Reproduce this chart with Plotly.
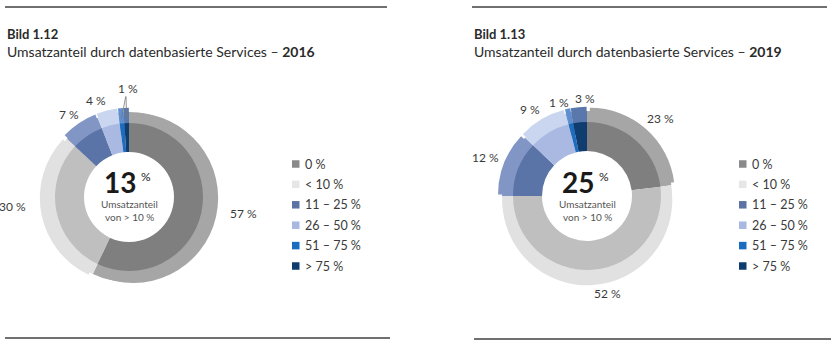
import math
import plotly.graph_objects as go

W, H = 839, 355

# ---------------- data ----------------
CATEGORIES = ["0 %", "< 10 %", "11 – 25 %", "26 – 50 %", "51 – 75 %", "> 75 %"]
VALUES_2016 = [57, 30, 7, 4, 1, 1]
VALUES_2019 = [23, 52, 12, 9, 1, 3]
YEARS = ["2016", "2019"]
FIGURE_NUMBERS = ["Bild 1.12", "Bild 1.13"]
SUBTITLE = "Umsatzanteil durch datenbasierte Services – "
CENTER_CAPTION = ["Umsatzanteil", "von > 10 %"]
SHARE_CATEGORIES = [2, 3, 4, 5]  # categories counted as "> 10 %"

# ---------------- styles ----------------
INNER_COLORS = ["#7f7f7f", "#bfbfbf", "#5b74a8", "#a9b9e1", "#1d6dbf", "#0f3d70"]
OUTER_COLORS = ["#a6a6a6", "#e1e1e1", "#8196c5", "#cad6ef", "#5f8fcf", "#5a78ab"]
LEGEND_COLORS = ["#8a8a8a", "#e6e6e6", "#5b72a5", "#a8b8e0", "#1a6cc0", "#0e3c6e"]
FONT = "Lato"
TEXT_COLOR = "#3a3a3a"

R_IN, HOLE_IN = 74, 45
R_OUT, HOLE_OUT = 85, 62
PULL = 0.05

PANELS = [
    dict(values=VALUES_2016, cx=129, cy=197, tx=5, leg_x=292,
         top=(5, 387, 7), bottom=(5, 390, 338),
         labels=[([0], 243, 213), ([1], 12, 206), ([2], 69, 114),
                 ([3], 96, 100), ([4, 5], 128, 88)]),
    dict(values=VALUES_2019, cx=587, cy=196, tx=472, leg_x=739,
         top=(472, 827, 7), bottom=(474, 831, 339),
         labels=[([0], 660, 118), ([1], 607, 293), ([2], 485, 157),
                 ([3], 530, 109), ([4], 559, 102), ([5], 585, 98)]),
]


def px(x):
    return x / W


def py(y):
    return 1 - y / H


def domain(cx, cy, half):
    return dict(x=[px(cx - half), px(cx + half)], y=[py(cy + half), py(cy - half)])


def text_ann(x, y, text, size, color=TEXT_COLOR, xanchor="center"):
    return dict(x=px(x), y=py(y), xref="paper", yref="paper", showarrow=False,
                xanchor=xanchor, yanchor="middle", text=text,
                font=dict(family=FONT, size=size, color=color))


fig = go.Figure()
annotations = []
shapes = []

for i, p in enumerate(PANELS):
    vals = p["values"]
    cx, cy = p["cx"], p["cy"]
    common = dict(labels=CATEGORIES, values=vals, sort=False, direction="clockwise",
                  rotation=0, textinfo="none", hoverinfo="label+value", showlegend=False)
    # outer ring base (lighter, fills the gaps of the exploded ring)
    fig.add_trace(go.Pie(
        hole=HOLE_OUT / R_OUT, domain=domain(cx, cy, R_OUT),
        marker=dict(colors=OUTER_COLORS, line=dict(width=0)), **common))
    # outer ring exploded (lighter)
    fig.add_trace(go.Pie(
        hole=HOLE_OUT / R_OUT, domain=domain(cx, cy, R_OUT * (1 + PULL)),
        pull=[PULL] * len(vals),
        marker=dict(colors=OUTER_COLORS, line=dict(width=0)), **common))
    # inner ring (darker)
    fig.add_trace(go.Pie(
        hole=HOLE_IN / R_IN, domain=domain(cx, cy, R_IN),
        marker=dict(colors=INNER_COLORS, line=dict(width=0)), **common))

    total = sum(vals)
    cum = [sum(vals[:k]) for k in range(len(vals))]

    # value labels
    for idxs, lx, ly in p["labels"]:
        annotations.append(text_ann(lx, ly, f"{vals[idxs[0]]} %", 12))
        if len(idxs) > 1:
            for k in idxs:
                ang = 2 * math.pi * (cum[k] + vals[k] / 2) / total
                tipx = cx + (R_OUT - 6) * math.sin(ang)
                tipy = cy - (R_OUT - 6) * math.cos(ang)
                annotations.append(dict(
                    x=px(tipx), y=py(tipy), xref="paper", yref="paper", text="",
                    showarrow=True, arrowhead=0, arrowwidth=0.8, arrowcolor="#777777",
                    ax=lx - 2 - tipx, ay=ly + 7 - tipy, standoff=0, startstandoff=0))

    # centre text
    share = sum(vals[k] for k in SHARE_CATEGORIES)
    annotations.append(text_ann(cx - 9, 182, f"<b>{share}</b>", 28, "#1a1a1a"))
    annotations.append(text_ann(cx + 17, 176, "%", 12, "#1a1a1a"))
    for j, cap in enumerate(CENTER_CAPTION):
        annotations.append(text_ann(cx, 204 + 13 * j, cap, 10, "#555555"))

    # titles
    annotations.append(text_ann(p["tx"], 34, f"<b>{FIGURE_NUMBERS[i]}</b>", 13,
                                "#2a2a2a", xanchor="left"))
    annotations.append(text_ann(p["tx"], 51, f"{SUBTITLE}<b>{YEARS[i]}</b>", 14,
                                "#2a2a2a", xanchor="left"))

    # rules
    x0, x1, yy = p["top"]
    shapes.append(dict(type="line", xref="paper", yref="paper", x0=px(x0), x1=px(x1),
                       y0=py(yy), y1=py(yy), line=dict(color="#404040", width=1.5)))
    x0, x1, yy = p["bottom"]
    shapes.append(dict(type="line", xref="paper", yref="paper", x0=px(x0), x1=px(x1),
                       y0=py(yy), y1=py(yy), line=dict(color="#404040", width=1.5)))

    # legend
    for k, cat in enumerate(CATEGORIES):
        ycen = 164 + 20.4 * k
        shapes.append(dict(type="rect", xref="paper", yref="paper",
                           x0=px(p["leg_x"]), x1=px(p["leg_x"] + 7.5),
                           y0=py(ycen + 3.75), y1=py(ycen - 3.75),
                           fillcolor=LEGEND_COLORS[k], line=dict(width=0)))
        annotations.append(text_ann(p["leg_x"] + 11, ycen, cat, 12.5, xanchor="left"))

fig.update_layout(
    width=W, height=H, margin=dict(l=0, r=0, t=0, b=0),
    paper_bgcolor="white", plot_bgcolor="white",
    annotations=annotations, shapes=shapes, showlegend=False,
    font=dict(family=FONT, color=TEXT_COLOR),
)

fig.write_html("out.html", config={"displayModeBar": False},
               post_script="document.body.style.margin='0px';")
